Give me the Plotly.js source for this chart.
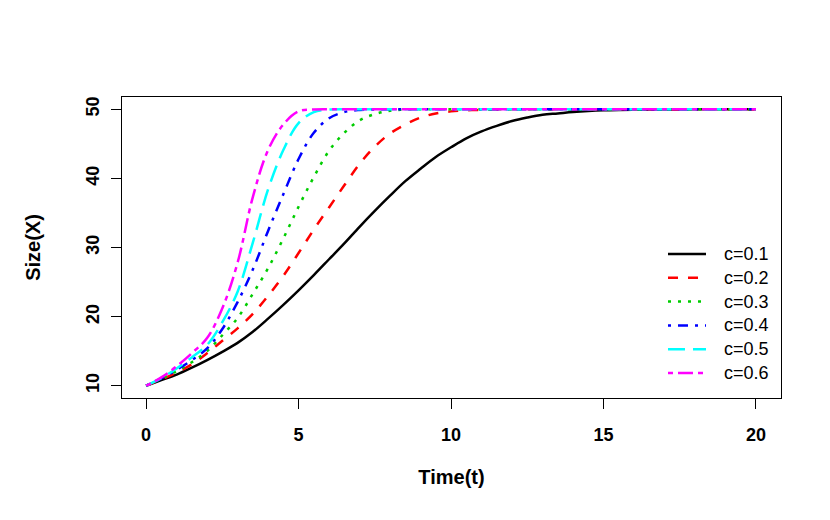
<!DOCTYPE html>
<html>
<head>
<meta charset="utf-8">
<script src="https://cdn.plot.ly/plotly-3.0.1.min.js"></script>
<style>
    html, body { margin: 0; padding: 0; background: #fff; }
    #graph { width: 830px; height: 520px; }
</style>
</head>
<body>
<div id="graph"></div>
<script>
// values, every 0.5 time units
const time = [0, 0.5, 1, 1.5, 2, 2.5, 3, 3.5, 4, 4.5, 5, 5.5, 6, 6.5, 7, 7.5, 8, 8.5, 9, 9.5,
    10, 10.5, 11, 11.5, 12, 12.5, 13, 13.5, 14, 14.5, 15, 15.5, 16, 16.5, 17, 17.5, 18, 18.5, 19, 19.5, 20]

const sizeC1 = [10, 10.8, 11.6, 12.6, 13.7, 14.9, 16.2, 17.8, 19.7, 21.7, 23.8, 26.0, 28.3, 30.6, 33.0, 35.3,
    37.5, 39.6, 41.4, 43.1, 44.5, 45.8, 46.8, 47.6, 48.3, 48.8, 49.2, 49.4, 49.6, 49.75, 49.85, 49.9,
    49.93, 49.95, 49.97, 49.98, 49.99, 50, 50, 50, 50]
const sizeC2 = [10, 10.9, 11.9, 13.1, 14.7, 16.5, 18.3, 20.4, 23.0, 25.9, 29.2, 32.6, 35.8, 39.0, 42.1, 44.6,
    46.5, 47.8, 48.8, 49.4, 49.7, 49.85, 49.93, 49.97, 50, 50, 50, 50, 50, 50, 50, 50,
    50, 50, 50, 50, 50, 50, 50, 50, 50]
const sizeC3 = [10, 11.0, 12.1, 13.4, 15.0, 17.3, 19.8, 23.3, 27.0, 31.3, 35.9, 40.2, 44.0, 46.6, 48.4, 49.3,
    49.8, 49.95, 50, 50, 50, 50, 50, 50, 50, 50, 50, 50, 50, 50, 50, 50,
    50, 50, 50, 50, 50, 50, 50, 50, 50]
const sizeC4 = [10, 11.05, 12.3, 13.7, 15.4, 18.2, 22.1, 26.8, 32.4, 37.7, 42.8, 46.6, 48.7, 49.6, 49.9, 49.97,
    50, 50, 50, 50, 50, 50, 50, 50, 50, 50, 50, 50, 50, 50, 50, 50,
    50, 50, 50, 50, 50, 50, 50, 50, 50]
const sizeC5 = [10, 11.1, 12.5, 14.1, 15.9, 19.2, 23.6, 30.7, 38.4, 44.1, 48.0, 49.6, 49.95, 50, 50, 50,
    50, 50, 50, 50, 50, 50, 50, 50, 50, 50, 50, 50, 50, 50, 50, 50,
    50, 50, 50, 50, 50, 50, 50, 50, 50]
const sizeC6 = [10, 11.2, 12.8, 14.7, 16.9, 21.2, 27.8, 37.3, 44.1, 47.8, 49.7, 49.97, 50, 50, 50, 50,
    50, 50, 50, 50, 50, 50, 50, 50, 50, 50, 50, 50, 50, 50, 50, 50,
    50, 50, 50, 50, 50, 50, 50, 50, 50]

const seriesNames = ['c=0.1', 'c=0.2', 'c=0.3', 'c=0.4', 'c=0.5', 'c=0.6']
const xTicks = [0, 5, 10, 15, 20]
const yTicks = [10, 20, 30, 40, 50]

// R lty 1..6 look
const colors = ['#000000', '#ff0000', '#00cd00', '#0000ff', '#00ffff', '#ff00ff']
const dashes = ['solid', '10px,10px', '3px,7px', '3px,7px,10px,7px', '17px,8px', '5px,5px,15px,5px']

const fontFamily = 'Liberation Sans, Arial, Helvetica, sans-serif'

// legend like R's legend(bty="n"): drawn in paper coords, rows ~24px apart
const plotTop = 97, plotBottom = 398, plotLeft = 122, plotRight = 781
function paperX(px) { return (px - plotLeft) / (plotRight - plotLeft) }
function paperY(py) { return (plotBottom - py) / (plotBottom - plotTop) }

function drawGraph() {
    let allSizes = [sizeC1, sizeC2, sizeC3, sizeC4, sizeC5, sizeC6]

    let data = allSizes.map(function (ys, i) {
        return {
            type: 'scatter',
            mode: 'lines',
            name: seriesNames[i],
            x: time,
            y: ys,
            showlegend: false,
            line: {
                color: colors[i],
                width: 2.5,
                dash: dashes[i],
                shape: 'spline',
                smoothing: 1
            }
        }
    })

    let shapes = []
    let annotations = []
    seriesNames.forEach(function (name, i) {
        let rowY = paperY(254 + 23.8 * i)
        shapes.push({
            type: 'line', xref: 'paper', yref: 'paper',
            x0: paperX(668), x1: paperX(706), y0: rowY, y1: rowY,
            line: {color: colors[i], width: 2.5, dash: dashes[i]}
        })
        annotations.push({
            xref: 'paper', yref: 'paper',
            x: paperX(722), y: rowY,
            xanchor: 'left', yanchor: 'middle',
            text: name, showarrow: false,
            font: {family: fontFamily, size: 18, color: 'black'}
        })
    })

    let layout = {
        width: 830,
        height: 520,
        margin: {l: 122, r: 49, t: 97, b: 122},
        paper_bgcolor: '#ffffff',
        plot_bgcolor: '#ffffff',
        font: {family: fontFamily, color: 'black'},
        showlegend: false,
        shapes: shapes,
        annotations: annotations,
        xaxis: {
            range: [-0.79, 20.82],
            tickvals: xTicks,
            ticktext: xTicks.map(String),
            ticks: 'outside',
            ticklen: 10,
            tickwidth: 1,
            tickcolor: 'black',
            ticklabelstandoff: 10,
            tickfont: {family: fontFamily, size: 18, weight: 'bold', color: 'black'},
            showline: true,
            mirror: true,
            linecolor: 'black',
            linewidth: 1.2,
            showgrid: false,
            zeroline: false,
            title: {
                text: 'Time(t)',
                font: {family: fontFamily, size: 20, weight: 'bold', color: 'black'},
                standoff: 26
            }
        },
        yaxis: {
            range: [8.22, 51.78],
            tickvals: yTicks,
            ticktext: yTicks.map(String),
            tickangle: -90,
            ticks: 'outside',
            ticklen: 10,
            tickwidth: 1,
            tickcolor: 'black',
            ticklabelstandoff: 5,
            tickfont: {family: fontFamily, size: 18, weight: 'bold', color: 'black'},
            showline: true,
            mirror: true,
            linecolor: 'black',
            linewidth: 1.2,
            showgrid: false,
            zeroline: false,
            title: {
                text: 'Size(X)',
                font: {family: fontFamily, size: 20, weight: 'bold', color: 'black'},
                standoff: 36
            }
        }
    }

    Plotly.newPlot('graph', data, layout, {displayModeBar: false, staticPlot: true})
}

drawGraph()
</script>
</body>
</html>
